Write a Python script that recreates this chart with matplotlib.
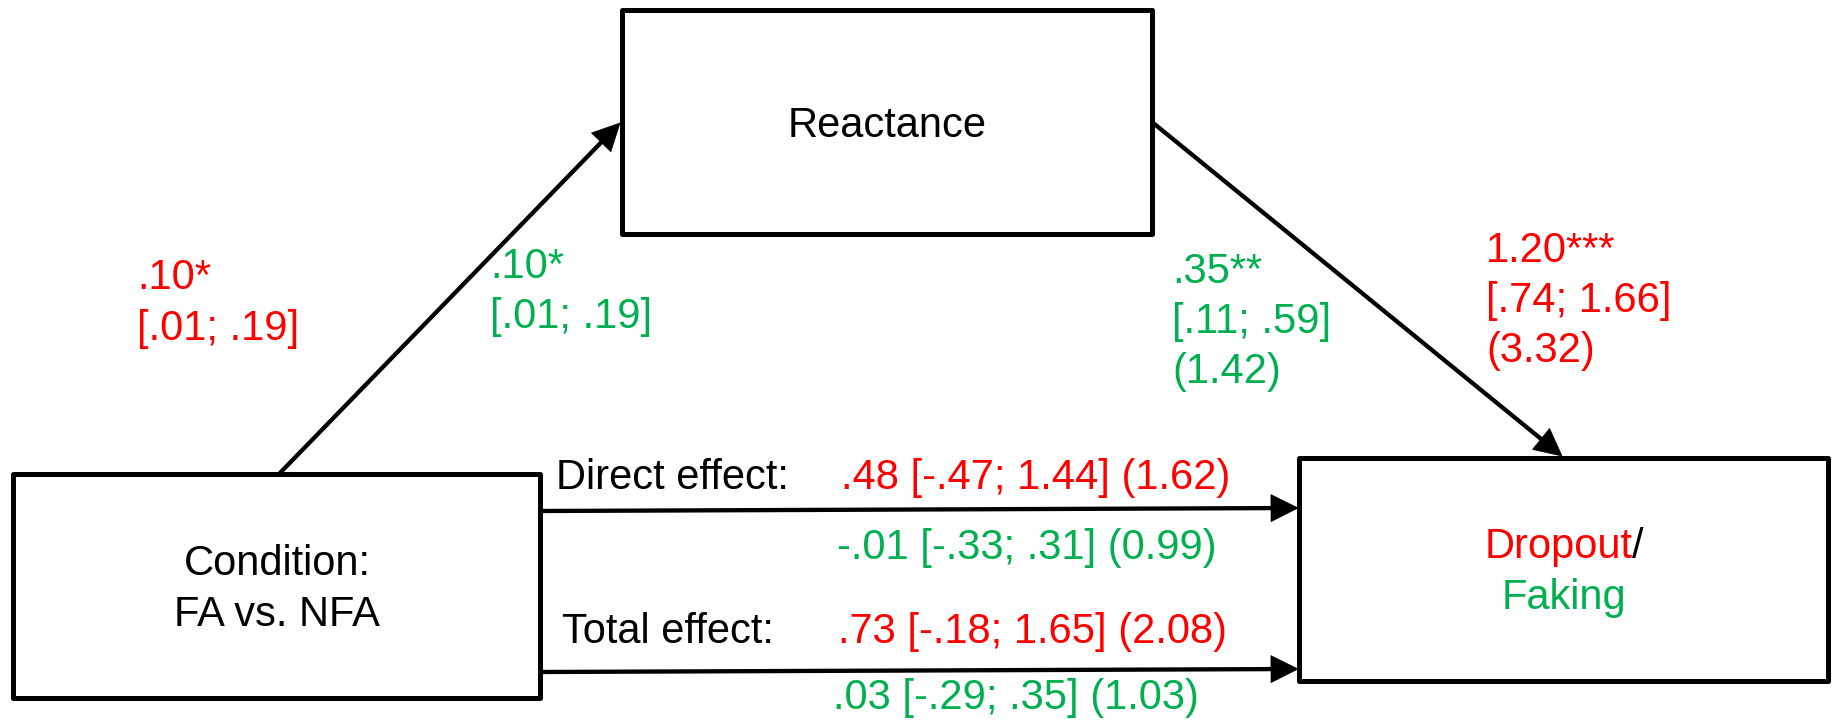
import matplotlib
matplotlib.use("Agg")
import matplotlib.pyplot as plt
from matplotlib.patches import Rectangle, Polygon
import numpy as np

RED = "#FF0000"
GREEN = "#00B050"
BLACK = "#000000"

# ---- content ----
box_labels = {"reactance": ["Reactance"], "condition": ["Condition:", "FA vs. NFA"]}
outcome_labels = ["Dropout", "/", "Faking"]
a_path_dropout = [".10*", "[.01; .19]"]
a_path_faking = [".10*", "[.01; .19]"]
b_path_faking = [".35**", "[.11; .59]", "(1.42)"]
b_path_dropout = ["1.20***", "[.74; 1.66]", "(3.32)"]
effect_names = ["Direct effect:", "Total effect:"]
direct_effect = {"dropout": ".48 [-.47; 1.44] (1.62)", "faking": "-.01 [-.33; .31] (0.99)"}
total_effect = {"dropout": ".73 [-.18; 1.65] (2.08)", "faking": ".03 [-.29; .35] (1.03)"}

W, H = 1837, 720
fig = plt.figure(figsize=(W / 100, H / 100), dpi=100)
ax = fig.add_axes([0, 0, 1, 1])
ax.set_xlim(0, W)
ax.set_ylim(H, 0)
ax.axis("off")

FONT = "Liberation Sans"
FS = 30
BOX_LW = 3.6
ARR_LW = 3.1

# boxes (x0, y0, x1, y1)
react_box = (622, 10, 1152, 234)
cond_box = (13, 474, 540, 698)
out_box = (1299, 458, 1828, 681)

for (x0, y0, x1, y1) in [react_box, cond_box, out_box]:
    ax.add_patch(Rectangle((x0, y0), x1 - x0, y1 - y0, fill=False,
                           ec=BLACK, lw=BOX_LW, joinstyle="round", zorder=3))


def arrow(p0, p1, head_len=27, head_half=13.5):
    p0 = np.array(p0, float)
    p1 = np.array(p1, float)
    d = p1 - p0
    L = np.hypot(*d)
    u = d / L
    n = np.array([-u[1], u[0]])
    base = p1 - u * head_len
    ax.plot([p0[0], base[0] + u[0] * 2], [p0[1], base[1] + u[1] * 2],
            color=BLACK, lw=ARR_LW, solid_capstyle="butt", zorder=2)
    ax.add_patch(Polygon([p1, base + n * head_half, base - n * head_half],
                         closed=True, fc=BLACK, ec=BLACK, lw=0.5, zorder=4))


arrow((279, 474), (620, 123))
arrow((1152, 122), (1562, 456))
arrow((540, 511), (1298, 508))
arrow((540, 672), (1298, 669))


def txt(x, y, s, color=BLACK, ha="left"):
    return ax.text(x, y, s, color=color, fontsize=FS, family=FONT,
                   ha=ha, va="baseline", zorder=5)


# box texts
txt(887, 137, box_labels["reactance"][0], ha="center")
txt(277, 575, box_labels["condition"][0], ha="center")
txt(277, 626, box_labels["condition"][1], ha="center")

# outcome text with mixed colours
fig.canvas.draw()
r = fig.canvas.get_renderer()
probe = txt(0, 0, outcome_labels[0] + outcome_labels[1])
wfull = probe.get_window_extent(r).width
probe.remove()
cx = 1564
t1 = txt(cx - wfull / 2, 558, outcome_labels[0], color=RED)
w1 = t1.get_window_extent(r).width
txt(cx - wfull / 2 + w1, 558, outcome_labels[1], color=BLACK)
txt(cx, 609, outcome_labels[2], color=GREEN, ha="center")

# a path labels
for i, s in enumerate(a_path_dropout):
    txt(137, 289 + 51 * i, s, color=RED)
for i, s in enumerate(a_path_faking):
    txt(490, 278 + 50 * i, s, color=GREEN)

# b path labels
for i, s in enumerate(b_path_faking):
    txt(1172, 283 + 50 * i, s, color=GREEN)
for i, s in enumerate(b_path_dropout):
    txt(1486, 262 + 50 * i, s, color=RED)

# direct / total effects
txt(556, 489, effect_names[0])
txt(841, 489, direct_effect["dropout"], color=RED)
txt(837, 559, direct_effect["faking"], color=GREEN)
txt(562, 643, effect_names[1])
txt(838, 643, total_effect["dropout"], color=RED)
txt(833, 709, total_effect["faking"], color=GREEN)

fig.savefig("out.png", dpi=100, facecolor="white")
